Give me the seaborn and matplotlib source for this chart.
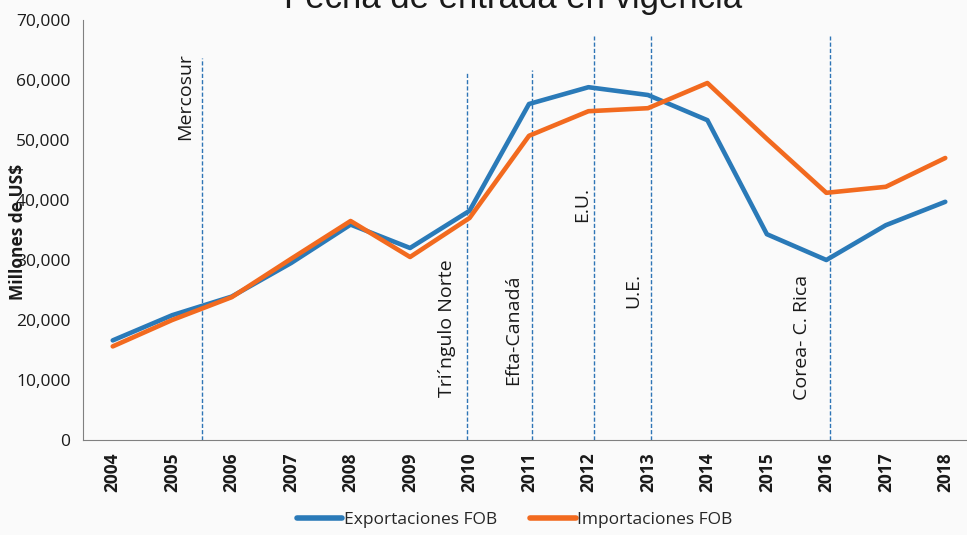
import pandas as pd
import numpy as np
import seaborn as sns
import matplotlib.pyplot as plt

# Datos (millones de US$)
anios = list(range(2004, 2019))
exportaciones = [16600, 20800, 23900, 29500, 35900, 32000, 38200, 56000, 58800, 57500, 53300, 34300, 30000, 35800, 39700]
importaciones = [15600, 20000, 23800, 30200, 36500, 30500, 37000, 50700, 54800, 55300, 59500, 50200, 41200, 42200, 47000]

# Acuerdos comerciales: posición de la línea, alto de la línea
acuerdos = ['Mercosur', 'Tri\u00b4ngulo Norte', 'Efta-Canadá', 'E.U.', 'U.E.', 'Corea- C. Rica']
acuerdo_x = [2005.5, 2009.95, 2011.05, 2012.1, 2013.05, 2016.07]
acuerdo_top = [63700, 61300, 61700, 67300, 67300, 67300]

datos = pd.DataFrame({
    'Año': anios * 2,
    'Valor': exportaciones + importaciones,
    'Serie': ['Exportaciones FOB'] * len(anios) + ['Importaciones FOB'] * len(anios),
})

sns.set_style('white')
plt.rcParams['font.family'] = ['Open Sans', 'DejaVu Sans']

fig = plt.figure(figsize=(9.67, 5.35), dpi=100)
fig.patch.set_facecolor('#fafafa')
ax = fig.add_axes([83 / 967, 1 - 440 / 535, (975 - 83) / 967, 420 / 535])
ax.set_facecolor('#fafafa')

colores = {'Exportaciones FOB': '#2a7ab8', 'Importaciones FOB': '#f26a1f'}
sns.lineplot(data=datos, x='Año', y='Valor', hue='Serie', palette=colores,
             linewidth=3.3, ax=ax, solid_joinstyle='round', solid_capstyle='round')

# Líneas de entrada en vigencia
for x, top in zip(acuerdo_x, acuerdo_top):
    ax.plot([x, x], [0, top], color='#2e75b6', lw=1.0, ls=(0, (3, 1.5)), zorder=1)

# Textos de los acuerdos (x centro, y, alineación vertical)
txt_x = [2005.21, 2009.62, 2010.73, 2011.89, 2012.75, 2015.59]
txt_y = [64500, 7200, 9200, 36300, 22000, 6700]
txt_va = ['top', 'bottom', 'bottom', 'bottom', 'bottom', 'bottom']
for nombre, x, y, va in zip(acuerdos, txt_x, txt_y, txt_va):
    ax.text(x, y, nombre, rotation=90, ha='center', va=va, fontsize=14, color='#1a1a1a')

ax.set_xlim(2003.5, 2018.5)
ax.set_ylim(0, 70000)
ax.set_xticks(anios)
ax.set_xticklabels([str(a) for a in anios], rotation=90, fontweight='bold', fontsize=12.5)
ax.set_xticks(np.arange(2003.5, 2019, 1), minor=True)
ax.tick_params(axis='x', which='major', length=0, pad=9, colors='#1a1a1a')
ax.tick_params(axis='x', which='minor', length=4, width=0.8, color='#808080', direction='out')
ax.set_yticks(range(0, 70001, 10000))
ax.set_yticklabels([f'{v:,}' for v in range(0, 70001, 10000)], fontsize=12.5)
ax.tick_params(axis='y', length=3, width=0.8, color='#808080', pad=6, labelcolor='#1a1a1a')
ax.set_xlabel('')
ax.set_ylabel('')
for lado in ['top', 'right']:
    ax.spines[lado].set_visible(False)
for lado in ['left', 'bottom']:
    ax.spines[lado].set_color('#808080')
    ax.spines[lado].set_linewidth(0.8)

handles, labels = ax.get_legend_handles_labels()
for h in handles:
    h.set_linewidth(4)
ax.legend(handles, labels, loc='center', bbox_to_anchor=(515 / 967, 1 - 520 / 535),
          bbox_transform=fig.transFigure, ncol=2, frameon=False, fontsize=12.5,
          handlelength=2.6, handletextpad=0.1, columnspacing=1.9)

fig.text(18 / 967, 1 - 232 / 535, 'Millones de US$', rotation=90, ha='center', va='center',
         fontsize=12.5, fontweight='bold', color='#1a1a1a')
fig.text(513 / 967, 1 - 8 / 535, 'Fecha de entrada en vigencia', ha='center', va='baseline',
         fontsize=25, family='Liberation Sans', color='#1a1a1a')

fig.savefig('out.png', dpi=100, facecolor=fig.get_facecolor())
